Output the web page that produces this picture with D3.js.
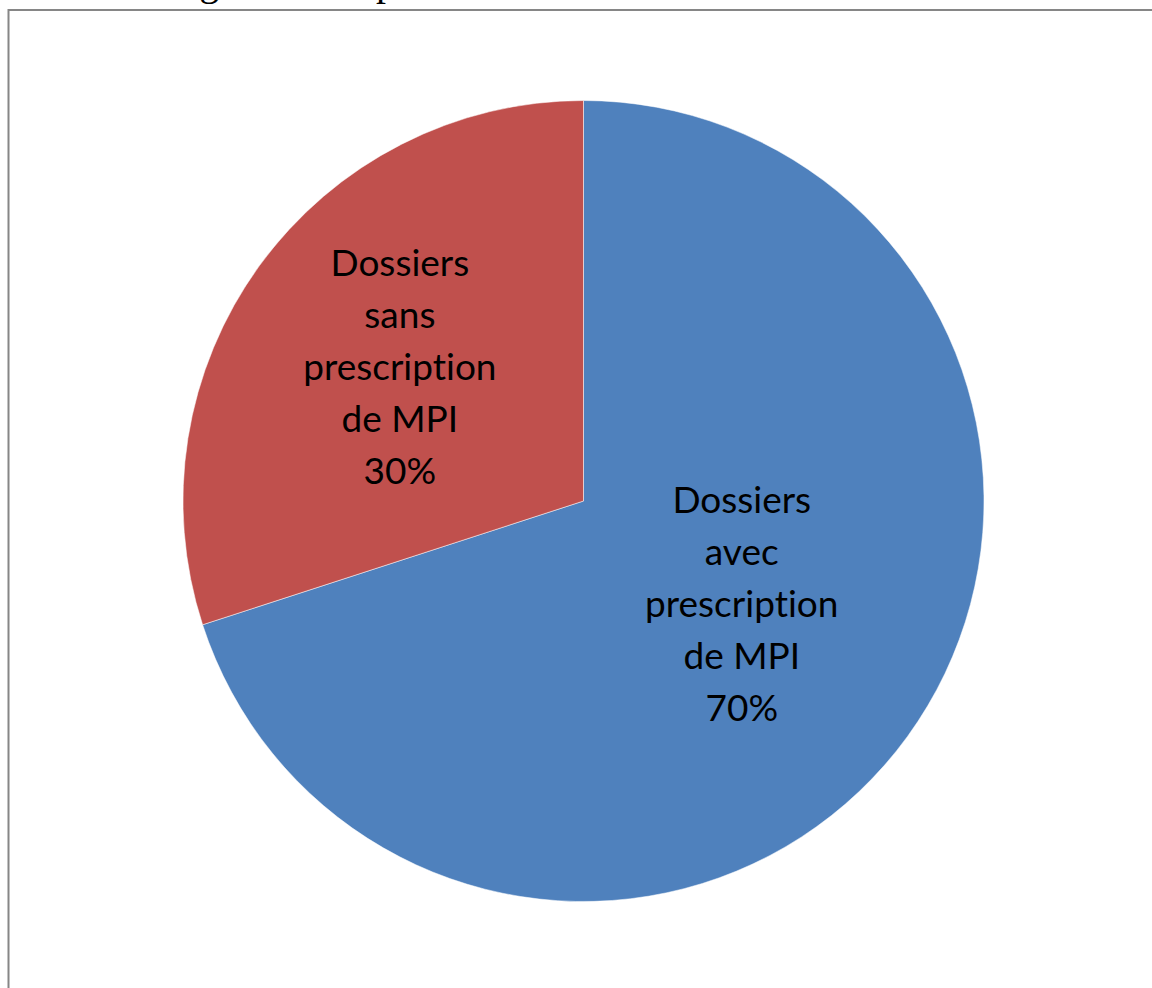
<!DOCTYPE html>
<html>
<head>
<meta charset="utf-8">
<script src="https://cdn.jsdelivr.net/npm/d3@7"></script>
<style>
  html, body { margin: 0; padding: 0; background: #fff; overflow: hidden; }
  svg { display: block; }
  text { font-variant-ligatures: none; }
</style>
</head>
<body>
<div id="chart"></div>
<script>
// Pie chart - dossiers avec / sans prescription de MPI

const categories = ['Dossiers avec prescription de MPI', 'Dossiers sans prescription de MPI'];
const labelLines = [
    ['Dossiers', 'avec', 'prescription', 'de MPI'],
    ['Dossiers', 'sans', 'prescription', 'de MPI']
];
const values = [70, 30];
const colors = ['#4F81BD', '#C0504D'];

const width = 1152;
const height = 988;
const cx = 583.5;
const cy = 501;
const radius = 400.5;

const svg = d3.select('#chart')
    .append('svg')
    .attr('width', width)
    .attr('height', height);

// title of the page above, mostly cut off by the crop
svg.append('text')
    .attr('x', 166)
    .attr('y', -5)
    .attr('font-family', 'Liberation Serif, serif')
    .attr('font-size', 40)
    .attr('fill', '#000')
    .text('Figure 3 : Répartition des dossiers');

// chart frame
svg.append('rect')
    .attr('x', 8.5)
    .attr('y', 10)
    .attr('width', width + 20)
    .attr('height', height + 20)
    .attr('fill', 'none')
    .attr('stroke', '#868686')
    .attr('stroke-width', 2);

const pie = d3.pie()
    .sort(null)
    .value(d => d);

const arcs = pie(values);

const arc = d3.arc()
    .innerRadius(0)
    .outerRadius(radius);

const g = svg.append('g')
    .attr('transform', `translate(${cx},${cy})`);

g.selectAll('path')
    .data(arcs)
    .join('path')
    .attr('d', arc)
    .attr('fill', (d, i) => colors[i])
    .attr('stroke', '#ffffff')
    .attr('stroke-opacity', 0.5)
    .attr('stroke-width', 1);

// labels sit near the slice bisector, like the Excel best-fit placement
const labelRadius = i => (i === 0 ? 189 : 227);
const labelNudge = i => (i === 0 ? -0.05 : 0);
const lineHeight = 52;

arcs.forEach((d, i) => {
    const mid = (d.startAngle + d.endAngle) / 2 + labelNudge(i);
    const lx = Math.sin(mid) * labelRadius(i);
    const ly = -Math.cos(mid) * labelRadius(i);
    const lines = labelLines[i].concat([values[i] + '%']);
    const t = g.append('text')
        .attr('text-anchor', 'middle')
        .attr('font-family', 'Lato, "Open Sans", sans-serif')
        .attr('font-size', 37)
        .attr('fill', '#000');
    lines.forEach((line, k) => {
        t.append('tspan')
            .attr('x', lx)
            .attr('y', ly + (k - (lines.length - 1) / 2) * lineHeight)
            .attr('dy', '0.34em')
            .text(line);
    });
});
</script>
</body>
</html>
